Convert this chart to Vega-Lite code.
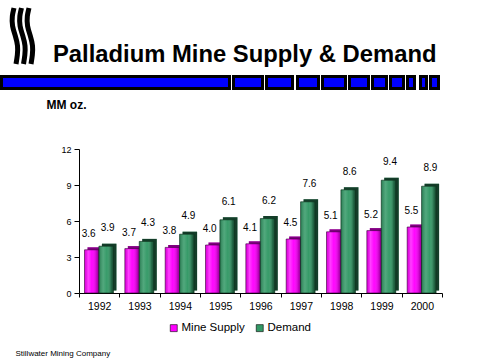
{
  "$schema": "https://vega.github.io/schema/vega-lite/v6.json",
  "autosize": "none",
  "width": 363,
  "height": 144,
  "padding": {"left": 79, "top": 149, "right": 38, "bottom": 67},
  "background": "white",
  "config": {
    "font": "Liberation Sans",
    "view": {"stroke": null}
  },
  "title": {
    "text": "Palladium Mine Supply & Demand",
    "anchor": "start",
    "frame": "group",
    "dx": -26,
    "dy": 88,
    "offset": 0,
    "baseline": "alphabetic",
    "fontSize": 23.8,
    "fontWeight": "bold",
    "font": "Liberation Sans",
    "color": "#000000"
  },
  "datasets": {
    "supply": [
      {"year": "1992", "series": "Mine Supply", "value": 3.6},
      {"year": "1993", "series": "Mine Supply", "value": 3.7},
      {"year": "1994", "series": "Mine Supply", "value": 3.8},
      {"year": "1995", "series": "Mine Supply", "value": 4.0},
      {"year": "1996", "series": "Mine Supply", "value": 4.1},
      {"year": "1997", "series": "Mine Supply", "value": 4.5},
      {"year": "1998", "series": "Mine Supply", "value": 5.1},
      {"year": "1999", "series": "Mine Supply", "value": 5.2},
      {"year": "2000", "series": "Mine Supply", "value": 5.5},
      {"year": "1992", "series": "Demand", "value": 3.9},
      {"year": "1993", "series": "Demand", "value": 4.3},
      {"year": "1994", "series": "Demand", "value": 4.9},
      {"year": "1995", "series": "Demand", "value": 6.1},
      {"year": "1996", "series": "Demand", "value": 6.2},
      {"year": "1997", "series": "Demand", "value": 7.6},
      {"year": "1998", "series": "Demand", "value": 8.6},
      {"year": "1999", "series": "Demand", "value": 9.4},
      {"year": "2000", "series": "Demand", "value": 8.9}
    ],
    "stripe": [
      {"segment": 1, "from": 1.5, "to": 229.5},
      {"segment": 2, "from": 233.5, "to": 262.5},
      {"segment": 3, "from": 266.5, "to": 292.5},
      {"segment": 4, "from": 297.5, "to": 318.5},
      {"segment": 5, "from": 322.5, "to": 345.5},
      {"segment": 6, "from": 349.5, "to": 368.5},
      {"segment": 7, "from": 372.5, "to": 386.5},
      {"segment": 8, "from": 390.5, "to": 403.5},
      {"segment": 9, "from": 407.5, "to": 414.5},
      {"segment": 10, "from": 420.5, "to": 426.5},
      {"segment": 11, "from": 430.5, "to": 438.5}
    ],
    "logo": [
      {"wave": 1, "order": 1, "x": 14, "y": 8},
      {"wave": 1, "order": 2, "x": 12, "y": 16},
      {"wave": 1, "order": 3, "x": 12, "y": 26},
      {"wave": 1, "order": 4, "x": 15.5, "y": 36},
      {"wave": 1, "order": 5, "x": 18, "y": 46},
      {"wave": 1, "order": 6, "x": 17.5, "y": 55},
      {"wave": 1, "order": 7, "x": 16, "y": 64},
      {"wave": 2, "order": 1, "x": 21.5, "y": 8},
      {"wave": 2, "order": 2, "x": 19.5, "y": 16},
      {"wave": 2, "order": 3, "x": 19.5, "y": 26},
      {"wave": 2, "order": 4, "x": 23, "y": 36},
      {"wave": 2, "order": 5, "x": 25.5, "y": 46},
      {"wave": 2, "order": 6, "x": 25, "y": 55},
      {"wave": 2, "order": 7, "x": 23.5, "y": 64},
      {"wave": 3, "order": 1, "x": 29, "y": 8},
      {"wave": 3, "order": 2, "x": 27, "y": 16},
      {"wave": 3, "order": 3, "x": 27, "y": 26},
      {"wave": 3, "order": 4, "x": 30.5, "y": 36},
      {"wave": 3, "order": 5, "x": 33, "y": 46},
      {"wave": 3, "order": 6, "x": 32.5, "y": 55},
      {"wave": 3, "order": 7, "x": 31, "y": 64}
    ]
  },
  "layer": [
    {
      "data": {"name": "supply"},
      "encoding": {
        "x": {
          "field": "year",
          "type": "ordinal",
          "scale": {"paddingInner": 0, "paddingOuter": 0},
          "axis": {
            "tickBand": "extent",
            "labelAngle": 0,
            "labelFontSize": 10.5,
            "labelColor": "#000000",
            "labelPadding": 4,
            "tickSize": 4,
            "tickColor": "#000000",
            "domainColor": "#000000",
            "title": "Stillwater Mining Company",
            "titleX": -64,
            "titleY": 60,
            "titleAlign": "left",
            "titleBaseline": "middle",
            "titleFontSize": 8,
            "titleFontWeight": "normal",
            "titleColor": "#000000"
          }
        },
        "y": {
          "field": "value",
          "type": "quantitative",
          "scale": {"domain": [0, 12], "nice": false},
          "axis": {
            "values": [0, 3, 6, 9, 12],
            "grid": false,
            "labelFontSize": 9,
            "labelColor": "#000000",
            "labelPadding": 3,
            "tickSize": 5,
            "tickColor": "#000000",
            "domainColor": "#000000",
            "title": "MM oz.",
            "titleAngle": 0,
            "titleX": -33,
            "titleY": -41,
            "titleAlign": "left",
            "titleBaseline": "alphabetic",
            "titleFontSize": 12,
            "titleFontWeight": "bold",
            "titleColor": "#000000"
          }
        }
      },
      "layer": [
        {
          "transform": [{"filter": "datum.series === 'Mine Supply'"}],
          "layer": [
            {
              "mark": {"type": "bar", "width": {"band": 0.36}, "xOffset": -4.4, "yOffset": -2.5, "y2Offset": -2.5},
              "encoding": {
                "color": {
                  "field": "series",
                  "type": "nominal",
                  "scale": {"domain": ["Mine Supply", "Demand"], "range": ["#FF00FF", "#339966"]},
                  "legend": {
                    "title": null,
                    "orient": "none",
                    "direction": "horizontal",
                    "legendX": 89,
                    "legendY": 173,
                    "padding": 0,
                    "symbolType": "square",
                    "symbolSize": 49,
                    "symbolStrokeColor": "#000000",
                    "symbolStrokeWidth": 0.6,
                    "symbolOpacity": 1,
                    "labelFontSize": 11.5,
                    "labelColor": "#000000",
                    "labelOffset": 2,
                    "columnPadding": 9
                  }
                }
              }
            },
            {
              "mark": {"type": "bar", "width": {"band": 0.36}, "xOffset": -4.4, "yOffset": -2.5, "y2Offset": -2.5, "fill": "#000000", "fillOpacity": 0.5}
            },
            {
              "mark": {"type": "bar", "width": {"band": 0.36}, "xOffset": -7.4},
              "encoding": {"color": {"field": "series", "type": "nominal"}}
            },
            {
              "mark": {
                "type": "bar", "width": {"band": 0.36}, "xOffset": -7.4,
                "stroke": "#330033", "strokeWidth": 0.6,
                "fill": {"gradient": "linear", "x1": 0, "x2": 1, "y1": 0, "y2": 0,
                  "stops": [
                    {"offset": 0, "color": "rgba(0,0,0,0.12)"},
                    {"offset": 0.25, "color": "rgba(255,255,255,0.25)"},
                    {"offset": 0.5, "color": "rgba(255,255,255,0.02)"},
                    {"offset": 0.85, "color": "rgba(0,0,0,0.25)"},
                    {"offset": 1, "color": "rgba(0,0,0,0.45)"}
                  ]}
              }
            },
            {
              "mark": {"type": "text", "xOffset": -10.5, "dy": -13, "baseline": "alphabetic", "fontSize": 10, "color": "#000000"},
              "encoding": {"text": {"field": "value", "type": "quantitative", "format": ".1f"}}
            }
          ]
        },
        {
          "transform": [{"filter": "datum.series === 'Demand'"}],
          "layer": [
            {
              "mark": {"type": "bar", "width": {"band": 0.36}, "xOffset": 10, "yOffset": -2.5, "y2Offset": -2.5},
              "encoding": {"color": {"field": "series", "type": "nominal"}}
            },
            {
              "mark": {"type": "bar", "width": {"band": 0.36}, "xOffset": 10, "yOffset": -2.5, "y2Offset": -2.5, "fill": "#000000", "fillOpacity": 0.6}
            },
            {
              "mark": {"type": "bar", "width": {"band": 0.36}, "xOffset": 7},
              "encoding": {"color": {"field": "series", "type": "nominal"}}
            },
            {
              "mark": {
                "type": "bar", "width": {"band": 0.36}, "xOffset": 7,
                "stroke": "#0a2a18", "strokeWidth": 0.6,
                "fill": {"gradient": "linear", "x1": 0, "x2": 1, "y1": 0, "y2": 0,
                  "stops": [
                    {"offset": 0, "color": "rgba(0,0,0,0.2)"},
                    {"offset": 0.3, "color": "rgba(255,255,255,0.15)"},
                    {"offset": 0.55, "color": "rgba(255,255,255,0.02)"},
                    {"offset": 0.85, "color": "rgba(0,0,0,0.3)"},
                    {"offset": 1, "color": "rgba(0,0,0,0.5)"}
                  ]}
              }
            },
            {
              "mark": {"type": "text", "xOffset": 8.5, "dy": -15, "baseline": "alphabetic", "fontSize": 10, "color": "#000000"},
              "encoding": {"text": {"field": "value", "type": "quantitative", "format": ".1f"}}
            }
          ]
        }
      ]
    },
    {
      "layer": [
        {
          "data": {"name": "stripe"},
          "mark": {"type": "rect", "fill": "#0000FF", "stroke": "#000000", "strokeWidth": 3},
          "encoding": {
            "x": {"field": "from", "type": "quantitative", "scale": {"domain": [79, 442], "nice": false, "zero": false}, "axis": null},
            "x2": {"field": "to"},
            "y": {"datum": 76.5, "type": "quantitative", "scale": {"domain": [149, 293], "reverse": true, "nice": false, "zero": false}, "axis": null},
            "y2": {"datum": 88.5}
          }
        },
        {
          "data": {"name": "logo"},
          "mark": {"type": "line", "color": "#000000", "strokeWidth": 5, "interpolate": "basis", "strokeCap": "butt"},
          "encoding": {
            "x": {"field": "x", "type": "quantitative", "scale": {"domain": [79, 442], "nice": false, "zero": false}, "axis": null},
            "y": {"field": "y", "type": "quantitative", "scale": {"domain": [149, 293], "reverse": true, "nice": false, "zero": false}, "axis": null},
            "detail": {"field": "wave", "type": "nominal"},
            "order": {"field": "order", "type": "quantitative"}
          }
        }
      ]
    }
  ],
  "resolve": {"scale": {"x": "independent", "y": "independent"}, "axis": {"x": "independent", "y": "independent"}}
}
